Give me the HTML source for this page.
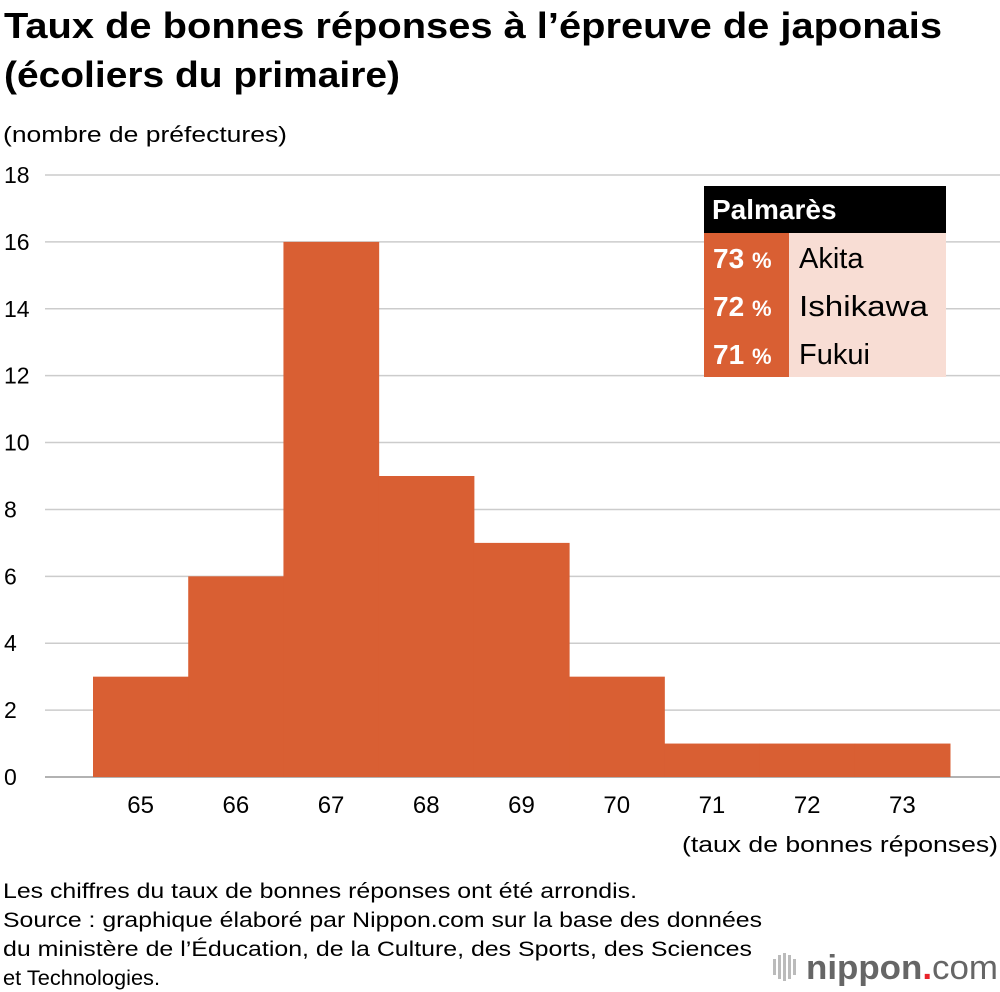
<!DOCTYPE html>
<html><head><meta charset="utf-8"><style>
body{margin:0;background:#fff}
svg{display:block;font-family:"Liberation Sans",Arial,sans-serif}
</style></head><body>
<svg id="chart" width="1000" height="992" viewBox="0 0 1000 992" xmlns="http://www.w3.org/2000/svg">
<text x="4" y="38" font-size="36" font-weight="bold" textLength="938" lengthAdjust="spacingAndGlyphs">Taux de bonnes réponses à l’épreuve de japonais</text>
<text x="4" y="87" font-size="36" font-weight="bold" textLength="396" lengthAdjust="spacingAndGlyphs">(écoliers du primaire)</text>
<text x="3" y="142" font-size="22" textLength="284" lengthAdjust="spacingAndGlyphs">(nombre de préfectures)</text>
<g id="grid"></g>
<g id="bars"></g>
<g id="xlabels"></g>
<text x="998" y="852" font-size="22" text-anchor="end" textLength="316" lengthAdjust="spacingAndGlyphs">(taux de bonnes réponses)</text>
<g>
<rect x="704" y="186" width="242" height="47" fill="#000"/>
<text x="712" y="219" font-size="28" font-weight="bold" fill="#fff">Palmarès</text>
<rect x="704" y="233" width="85" height="144" fill="#d95f33"/>
<rect x="789" y="233" width="157" height="144" fill="#f8ddd4"/>
<g><text x="713" y="268" font-size="28" font-weight="bold" fill="#fff">73 <tspan font-size="22">%</tspan></text><text x="799" y="268" font-size="29">Akita</text></g>
<g><text x="713" y="316" font-size="28" font-weight="bold" fill="#fff">72 <tspan font-size="22">%</tspan></text><text x="799" y="316" font-size="29" textLength="129" lengthAdjust="spacingAndGlyphs">Ishikawa</text></g>
<g><text x="713" y="364" font-size="28" font-weight="bold" fill="#fff">71 <tspan font-size="22">%</tspan></text><text x="799" y="364" font-size="29">Fukui</text></g>
</g>
<g font-size="21">
<text x="3" y="898" textLength="634" lengthAdjust="spacingAndGlyphs">Les chiffres du taux de bonnes réponses ont été arrondis.</text>
<text x="3" y="927" textLength="759" lengthAdjust="spacingAndGlyphs">Source : graphique élaboré par Nippon.com sur la base des données</text>
<text x="3" y="956" textLength="749" lengthAdjust="spacingAndGlyphs">du ministère de l’Éducation, de la Culture, des Sports, des Sciences</text>
<text x="3" y="985" textLength="157" lengthAdjust="spacingAndGlyphs">et Technologies.</text>
</g>
<g>
<g fill="#bbb"><rect x="773" y="959" width="3" height="16"/><rect x="778" y="955" width="3" height="24"/><rect x="783" y="953" width="3" height="28"/><rect x="788" y="955" width="3" height="24"/><rect x="793" y="959" width="3" height="16"/></g>
<text x="806" y="979" font-size="34" font-weight="bold" fill="#666" textLength="192" lengthAdjust="spacingAndGlyphs">nippon<tspan fill="#e8242a">.</tspan><tspan font-weight="normal">com</tspan></text>
</g>
</svg>
<script>
const categories = [65,66,67,68,69,70,71,72,73];
const counts = [3,6,16,9,7,3,1,1,1];
const yTicks = [0,2,4,6,8,10,12,14,16,18];
const NS="http://www.w3.org/2000/svg";
const y0=777, yTop=175, yMax=18;
const yScale=v=>y0-(y0-yTop)*v/yMax;
const xStart=93, bw=(950-93)/categories.length;
const xScale=i=>xStart+i*bw;
const grid=document.getElementById('grid');
yTicks.forEach(t=>{
 const l=document.createElementNS(NS,'line');
 
 
 l.setAttribute('x1',45);l.setAttribute('x2',1000);
 l.setAttribute('y1',yScale(t));l.setAttribute('y2',yScale(t));
 l.setAttribute('stroke',t===0?'#999':'#ccc');l.setAttribute('stroke-width',1.5);
 grid.appendChild(l);
 const tx=document.createElementNS(NS,'text');
 
 
 tx.setAttribute('x',4);tx.setAttribute('y',yScale(t)+8);
 tx.setAttribute('font-size','23');tx.textContent=t;
 grid.appendChild(tx);
});
const bars=document.getElementById('bars'), xl=document.getElementById('xlabels');
categories.forEach((c,i)=>{
 const r=document.createElementNS(NS,'rect');
 
 
 r.setAttribute('x',xScale(i));r.setAttribute('width',bw+0.5);
 r.setAttribute('y',yScale(counts[i]));r.setAttribute('height',y0-yScale(counts[i]));
 r.setAttribute('fill','#d95f33');
 bars.appendChild(r);
 const t=document.createElementNS(NS,'text');
 
 
 t.setAttribute('x',xScale(i)+bw/2);t.setAttribute('y',813);
 t.setAttribute('text-anchor','middle');t.setAttribute('font-size','24');
 t.textContent=c;xl.appendChild(t);
});
</script>
</body></html>
